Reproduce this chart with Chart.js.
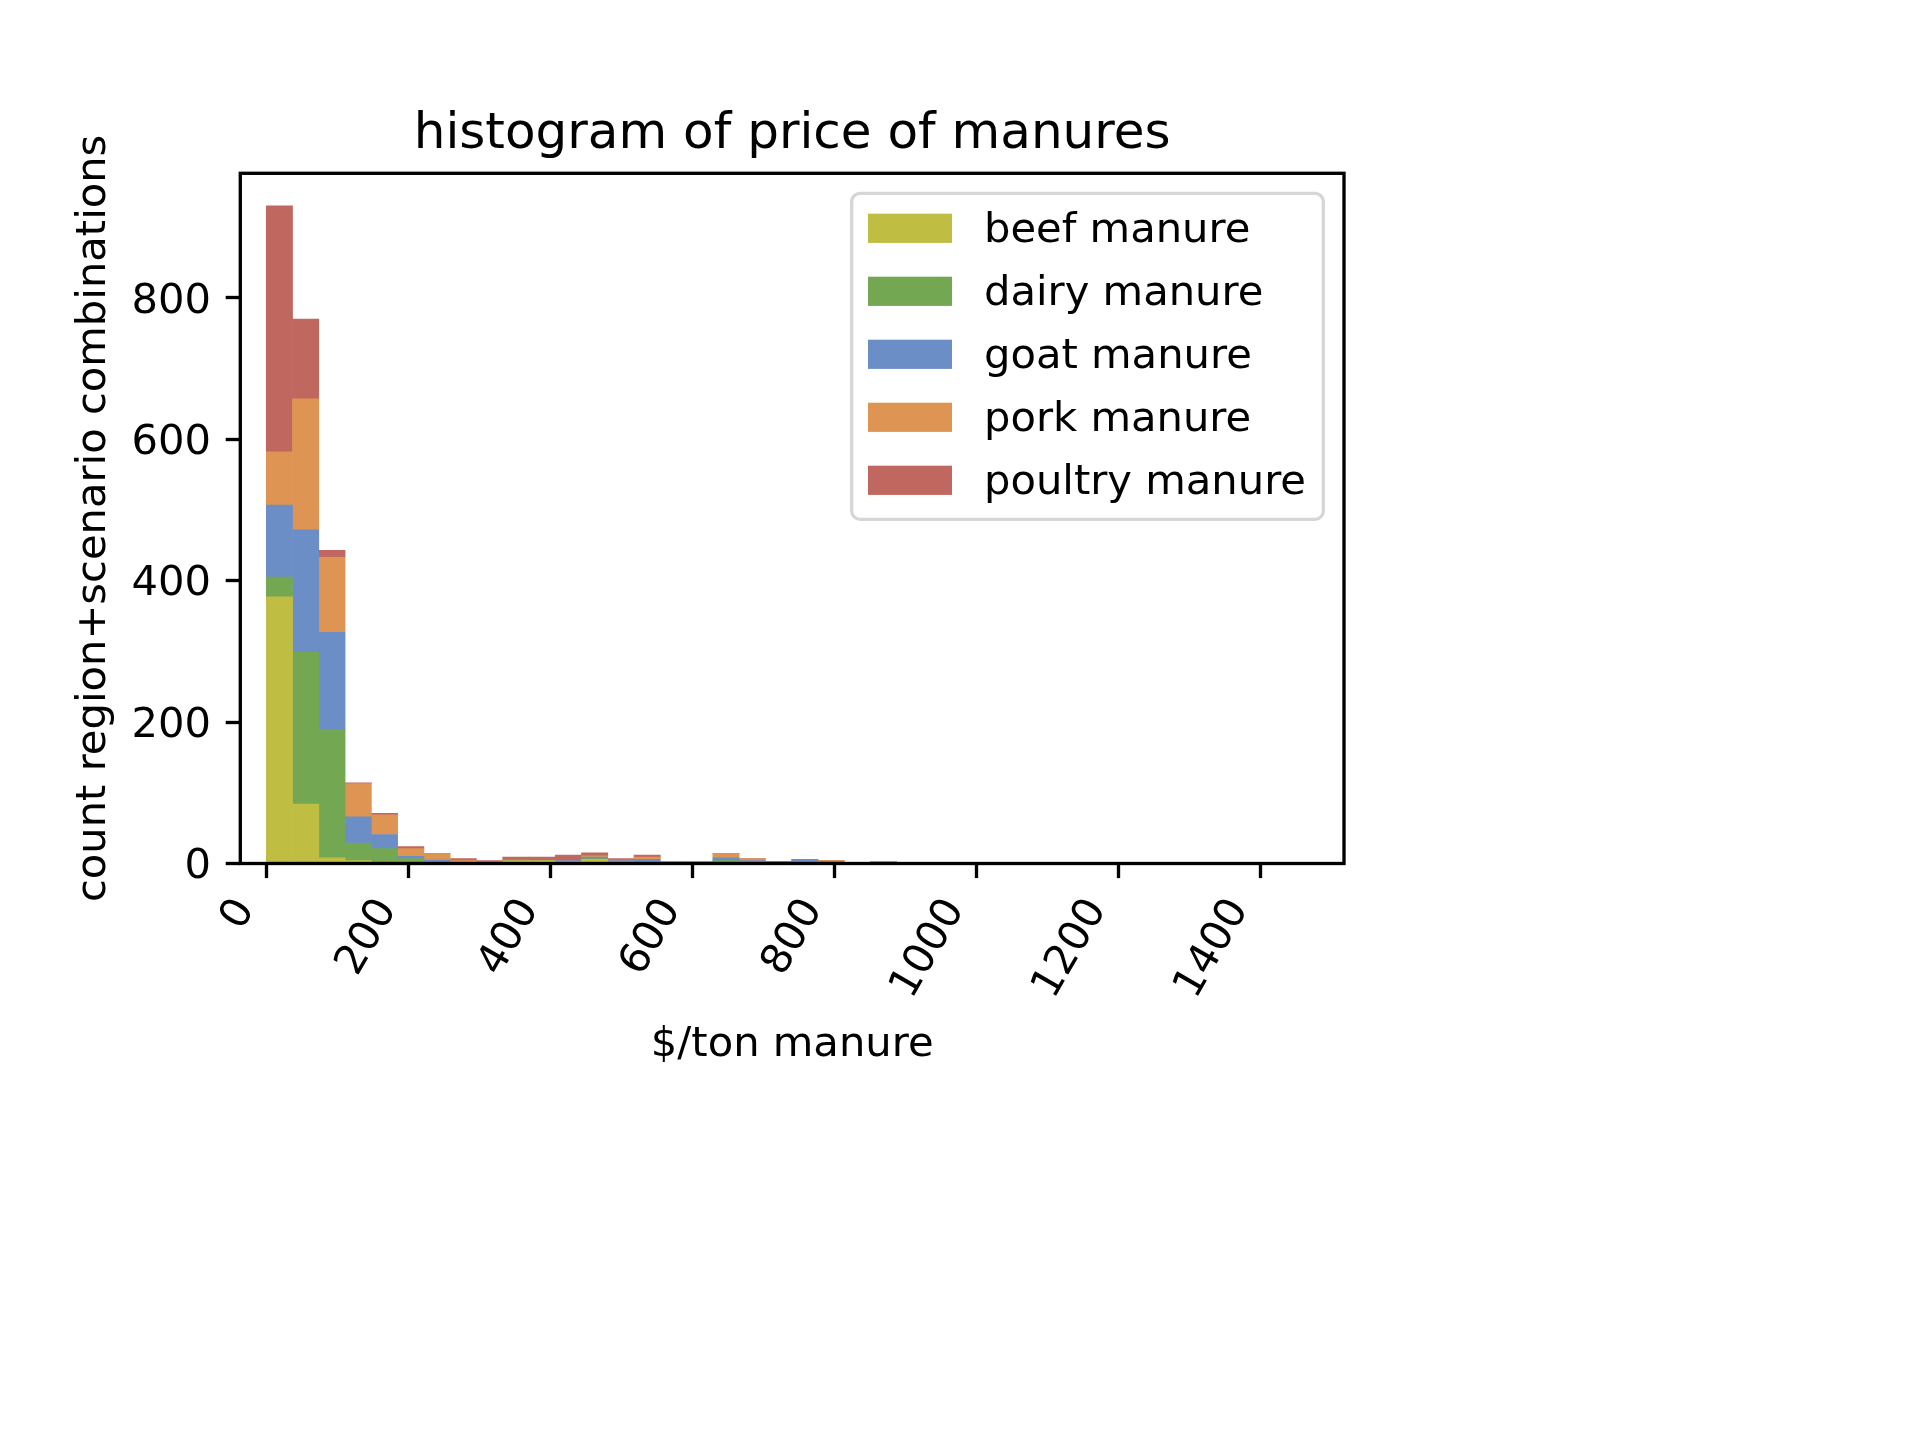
<!DOCTYPE html>
<html><head><meta charset="utf-8">
<script src="https://cdn.jsdelivr.net/npm/chart.js@4.4.1/dist/chart.umd.min.js"></script>
<style>html,body{margin:0;padding:0;background:#fff}canvas{display:block}</style>
</head><body>
<canvas id="c" width="1920" height="1440"></canvas>
<script>
// histogram bins ($/ton manure), bin centers (bin width ~37)
const binCenters = [18.5, 55.5, 92.5, 129.5, 166.5, 203.5, 240.5, 277.5, 314.5, 351.5, 388.5, 425.5,
                    462.5, 499.5, 536.5, 573.5, 610.5, 647.5, 684.5, 721.5, 758.5, 795.5, 832.5, 869.5];
const seriesNames = ['beef manure', 'dairy manure', 'goat manure', 'pork manure', 'poultry manure'];
const beef    = [377,  84,   8,  4,  1,  1, 0, 0, 0, 4, 4, 2, 6, 2, 0, 0, 0, 0, 0, 0, 0, 0, 0, 0];
const dairy   = [ 28, 215, 181, 25, 20,  6, 1, 0, 1, 0, 0, 0, 1, 0, 1, 0, 0, 4, 3, 1, 3, 0, 0, 0];
const goat    = [102, 173, 138, 37, 20,  3, 4, 2, 1, 0, 0, 2, 2, 2, 5, 0, 1, 4, 1, 2, 3, 3, 1, 0];
const pork    = [ 75, 185, 106, 47, 28, 11, 9, 2, 0, 1, 0, 0, 2, 1, 3, 3, 2, 6, 3, 0, 0, 1, 0, 3];
const poultry = [348, 113,  10,  1,  2,  3, 0, 3, 2, 4, 5, 8, 4, 2, 3, 0, 0, 0, 0, 0, 0, 0, 0, 0];
const xTicks = [0, 200, 400, 600, 800, 1000, 1200, 1400];
const yTicks = [0, 200, 400, 600, 800];
const colors = ['#c0bd43', '#73a752', '#6b8ec6', '#de9453', '#c0675f'];

const seriesValues = [beef, dairy, goat, pork, poultry];
const FONT = 'DejaVu Sans';
Chart.defaults.font.family = FONT;

const toPoints = vals => binCenters.map((x, i) => ({x: x, y: vals[i]}));

const framePlugin = {
  id: 'frame',
  afterDatasetsDraw(chart) {
    const {ctx, chartArea: a} = chart;
    ctx.save();
    ctx.strokeStyle = '#000';
    ctx.lineWidth = 3.33;
    ctx.lineJoin = 'miter';
    ctx.strokeRect(a.left, a.top, a.right - a.left, a.bottom - a.top);
    ctx.restore();
  }
};

const legendPlugin = {
  id: 'mplLegend',
  afterDraw(chart) {
    const {ctx, chartArea: a} = chart;
    const fs = 41.67;
    const boxL = a.left + 611.4, boxT = a.top + 20, boxR = a.right - 20.7, boxB = a.top + 346;
    ctx.save();
    const r = 8.3;
    ctx.beginPath();
    ctx.moveTo(boxL + r, boxT);
    ctx.lineTo(boxR - r, boxT);
    ctx.arcTo(boxR, boxT, boxR, boxT + r, r);
    ctx.lineTo(boxR, boxB - r);
    ctx.arcTo(boxR, boxB, boxR - r, boxB, r);
    ctx.lineTo(boxL + r, boxB);
    ctx.arcTo(boxL, boxB, boxL, boxB - r, r);
    ctx.lineTo(boxL, boxT + r);
    ctx.arcTo(boxL, boxT, boxL + r, boxT, r);
    ctx.closePath();
    ctx.fillStyle = 'rgba(255,255,255,0.8)';
    ctx.fill();
    ctx.strokeStyle = '#d6d6d6';
    ctx.lineWidth = 3.33;
    ctx.stroke();
    ctx.font = fs + 'px "' + FONT + '"';
    ctx.textAlign = 'left';
    ctx.textBaseline = 'alphabetic';
    chart.data.datasets.forEach((ds, i) => {
      const cy = boxT + 35 + 63 * i;
      ctx.fillStyle = ds.backgroundColor;
      ctx.fillRect(boxL + 16.3, cy - 14.6, 84, 29.2);
      ctx.fillStyle = '#000';
      ctx.fillText(ds.label, boxL + 132.3, cy + 14);
    });
    ctx.restore();
  }
};

new Chart(document.getElementById('c'), {
  type: 'bar',
  data: {
    datasets: seriesNames.map((name, i) => ({
      label: name,
      data: toPoints(seriesValues[i]),
      backgroundColor: colors[i],
      borderWidth: 0
    }))
  },
  options: {
    responsive: false,
    devicePixelRatio: 1,
    animation: false,
    layout: {padding: {left: 0, top: 0, right: 576, bottom: 0}},
    datasets: {bar: {barPercentage: 1, categoryPercentage: 1}},
    plugins: {
      legend: {display: false},
      tooltip: {enabled: false},
      title: {
        display: true,
        text: 'histogram of price of manures',
        fullSize: false,
        color: '#000',
        font: {size: 50, weight: 'normal', family: FONT, lineHeight: 1.2},
        padding: {top: 105.4, bottom: 7.9}
      }
    },
    scales: {
      x: {
        type: 'linear',
        stacked: true,
        min: -36.6,
        max: 1518,
        offset: false,
        grid: {display: true, drawOnChartArea: false, drawTicks: true, tickLength: 14.6,
               tickWidth: 3.33, tickColor: '#000', offset: false},
        border: {display: false},
        ticks: {autoSkip: false, minRotation: 60, maxRotation: 60, padding: 12.5, labelOffset: -21,
                color: '#000', font: {size: 41.67, family: FONT}, callback: v => String(v)},
        afterBuildTicks: s => { s.ticks = xTicks.map(v => ({value: v})); },
        afterFit: s => { s.height = 576.5; },
        title: {display: true, text: '$/ton manure', color: '#000',
                font: {size: 41.67, family: FONT, lineHeight: 1.2}, padding: {top: 0, bottom: 369.4}}
      },
      y: {
        stacked: true,
        min: 0,
        max: 976,
        grid: {display: true, drawOnChartArea: false, drawTicks: true, tickLength: 14.6,
               tickWidth: 3.33, tickColor: '#000'},
        border: {display: false},
        ticks: {padding: 14.6, labelOffset: 4, color: '#000', font: {size: 41.67, family: FONT}, callback: v => String(v)},
        afterBuildTicks: s => { s.ticks = yTicks.map(v => ({value: v})); },
        afterFit: s => { s.width = 240.3; },
        title: {display: true, text: 'count region+scenario combinations', color: '#000',
                font: {size: 41.67, family: FONT, lineHeight: 1.2}, padding: {top: 69, bottom: 0}}
      }
    }
  },
  plugins: [framePlugin, legendPlugin]
});
</script>
</body></html>
